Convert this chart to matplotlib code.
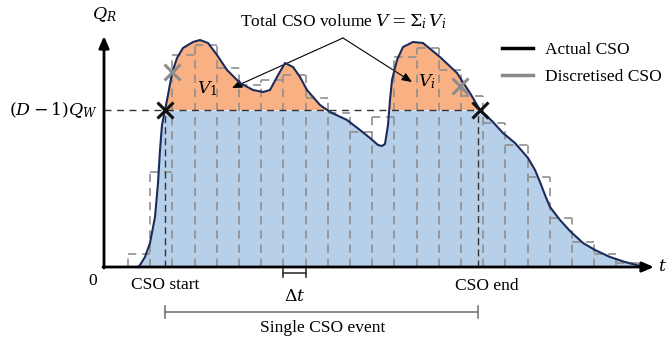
import matplotlib.pyplot as plt
import numpy as np
from matplotlib.lines import Line2D

t_actual = [32, 34, 39, 44, 49, 52, 54, 56, 59, 62, 66, 71, 77, 87, 94, 102, 111,
            121, 134, 147, 157, 164, 171, 179, 187, 194, 201, 214, 224, 241, 254,
            264, 272, 276, 279, 282, 284, 286, 291, 297, 307, 317, 334, 351, 364,
            374, 386, 397, 409, 422, 429, 434, 439, 444, 454, 464, 477, 489, 504,
            519, 534, 540]
q_actual = [0, 2, 10, 24, 50, 84, 117, 142, 157, 172, 194, 209, 219, 225, 227,
            224, 212, 197, 184, 177, 175, 177, 190, 204, 200, 190, 177, 162, 155,
            147, 137, 129, 122, 121, 123, 142, 167, 187, 207, 220, 225, 224, 210,
            194, 174, 157, 146, 134, 124, 109, 97, 85, 72, 60, 47, 36, 24, 17, 10,
            5, 1, 0]

# discretised CSO: one value per time step
dt = 22.2
t_first = 22
q_discrete = [13, 95, 212, 222, 199, 182, 187, 192, 169, 154, 135, 150, 210,
              219, 197, 171, 144, 122, 90, 49, 25, 13, 4]

threshold = 157          # (D-1) Q_W
t_start, t_end = 59, 374  # CSO start / end
cross_grey = ([66, 354], [195, 181])

BLUE = "#b7d0ea"
ORANGE = "#f9b184"
NAVY = "#1c2b5c"
GREY = "#8f8f8f"
DASH = (0, (5, 3.5))

plt.rcParams["font.family"] = ["Liberation Serif", "DejaVu Serif"]
plt.rcParams["mathtext.fontset"] = "dejavuserif"

fig = plt.figure(figsize=(6.7, 3.4), dpi=100)
ax = fig.add_axes([0, 0, 1, 1])
ax.set_xlim(-106, 564)
ax.set_ylim(-73, 267)
ax.axis("off")

t = np.array(t_actual, dtype=float)
q = np.array(q_actual, dtype=float)

ax.fill_between(t, 0, np.minimum(q, threshold), color=BLUE, lw=0, zorder=1)
ax.fill_between(t, threshold, q, where=q > threshold, interpolate=True,
                color=ORANGE, lw=0, zorder=1)

# discretised steps: dashed tops plus dashed verticals at each step edge
qd = np.array(q_discrete, dtype=float)
edges = t_first + dt * np.arange(len(qd) + 1)
ax.hlines(qd, edges[:-1], edges[1:], colors=GREY, linewidth=1.2,
          linestyles=DASH, zorder=2)
v_top = np.maximum(np.r_[0, qd], np.r_[qd, 0])
ax.vlines(edges, 0, v_top, colors=GREY, linewidth=1.2, linestyles=DASH,
          zorder=2)

# threshold and start / end markers
ax.plot([-2, t_end], [threshold, threshold], color="#333333", lw=1,
        ls=(0, (5, 4)), zorder=3)
ax.plot([t_start, t_start], [0, threshold], color="#333333", lw=1,
        ls=(0, (5, 3)), zorder=3)
ax.plot([t_end - 2, t_end - 2], [0, threshold], color="#333333", lw=1,
        ls=(0, (5, 3)), zorder=3)

ax.plot(t, q, color=NAVY, lw=1.5, zorder=4)

ax.plot(cross_grey[0], cross_grey[1], ls="none", marker="x", ms=12, mew=2.2,
        color="#8c8c8c", zorder=5)
ax.plot([t_start, t_end], [threshold, threshold], ls="none", marker="x",
        ms=12, mew=2.2, color="#111111", zorder=5)

# axes with arrows
ax.annotate("", xy=(-2, 231), xytext=(-2, -1),
            arrowprops=dict(arrowstyle="-|>,head_width=0.3,head_length=0.7",
                            color="black", lw=2, shrinkA=0, shrinkB=0), zorder=6)
ax.annotate("", xy=(548, 0), xytext=(-3, 0),
            arrowprops=dict(arrowstyle="-|>,head_width=0.3,head_length=0.7",
                            color="black", lw=2, shrinkA=0, shrinkB=0), zorder=6)

fs = 12.5
ax.text(-2, 252, "$Q_R$", fontsize=fs, ha="center", va="center")
ax.text(-8, threshold, "$(D-1)Q_W$", fontsize=fs, ha="right", va="center")
ax.text(-13, -14, "0", fontsize=fs, ha="center", va="center")
ax.text(557, 0, "$t$", fontsize=fs, ha="center", va="center")
ax.text(101, 178, "$V_1$", fontsize=fs, ha="center", va="center")
ax.text(321, 185, "$V_i$", fontsize=fs, ha="center", va="center")

ax.text(237, 245, r"Total CSO volume $V=\Sigma_i\, V_i$", fontsize=fs,
        ha="center", va="center")
for tip in [(126, 179), (306, 185)]:
    ax.annotate("", xy=tip, xytext=(237, 229),
                arrowprops=dict(arrowstyle="-|>,head_width=0.25,head_length=0.6",
                                color="black", lw=0.8, shrinkA=0, shrinkB=0))

ax.text(t_start, -18, "CSO start", fontsize=fs, ha="center", va="center")
ax.text(t_end + 7, -19, "CSO end", fontsize=fs, ha="center", va="center")

# delta t bracket
k = 7
ax.plot([edges[k], edges[k + 1]], [-6, -6], color="#333333", lw=1.2)
for e in (edges[k], edges[k + 1]):
    ax.plot([e, e], [-2, -10], color="#333333", lw=1.2)
ax.text(edges[k] + dt / 2, -30, r"$\Delta t$", fontsize=fs, ha="center",
        va="center")

# single event bracket
ax.plot([t_start, t_end - 2], [-45, -45], color="#777777", lw=1.2)
for e in (t_start, t_end - 2):
    ax.plot([e, e], [-39, -51], color="#777777", lw=1.2)
ax.text((t_start + t_end) / 2, -61, "Single CSO event", fontsize=fs,
        ha="center", va="center")

handles = [Line2D([], [], color="black", lw=2.5),
           Line2D([], [], color="#8a8a8a", lw=2.5)]
ax.legend(handles, ["Actual CSO", "Discretised CSO"], loc="upper left",
          bbox_to_anchor=(486 / 670, 1 - 26 / 340), frameon=False,
          fontsize=fs, handlelength=1.8, handletextpad=0.7, labelspacing=0.65)

fig.savefig("out.png", dpi=100)
